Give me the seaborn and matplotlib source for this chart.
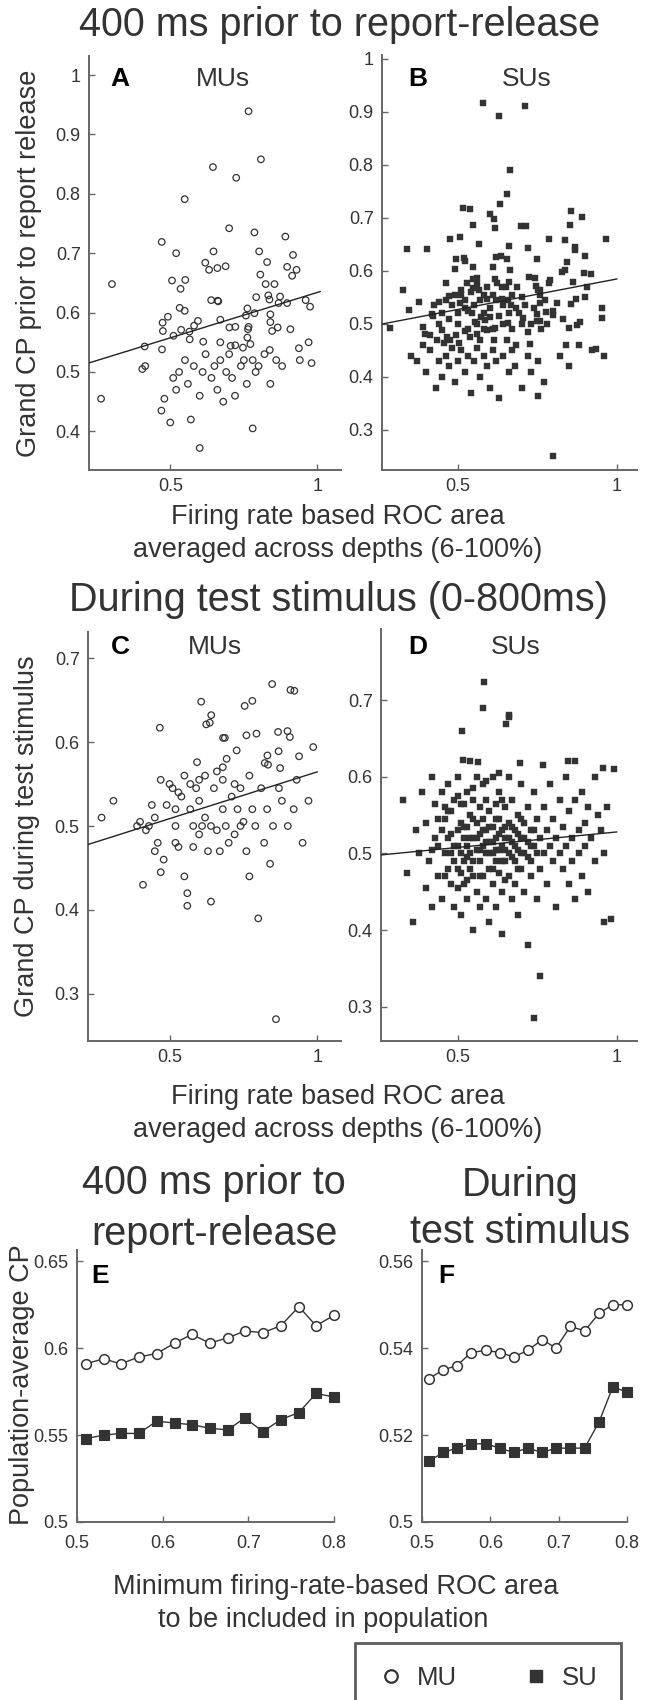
import matplotlib
matplotlib.use("Agg")
import matplotlib.pyplot as plt
import seaborn as sns
from matplotlib.lines import Line2D

# ---------------- data ----------------
# Panel A: MUs, 400 ms prior to report release (x = ROC area, y = grand CP)
a_pts = [
    (0.766, 0.939), (0.808, 0.858), (0.645, 0.845), (0.724, 0.827), (0.549, 0.791),
    (0.700, 0.742), (0.786, 0.735), (0.891, 0.728), (0.471, 0.719), (0.520, 0.700),
    (0.647, 0.703), (0.802, 0.703), (0.917, 0.697), (0.619, 0.684), (0.632, 0.672),
    (0.660, 0.675), (0.688, 0.678), (0.829, 0.685), (0.897, 0.677), (0.929, 0.672),
    (0.914, 0.662), (0.806, 0.664), (0.506, 0.654), (0.551, 0.655), (0.535, 0.640),
    (0.302, 0.648), (0.824, 0.648), (0.854, 0.648), (0.792, 0.626), (0.833, 0.629),
    (0.873, 0.627), (0.837, 0.622), (0.639, 0.621), (0.661, 0.620), (0.663, 0.619),
    (0.868, 0.616), (0.897, 0.616), (0.960, 0.621), (0.975, 0.610), (0.532, 0.608),
    (0.549, 0.603), (0.762, 0.607), (0.757, 0.595), (0.786, 0.599), (0.840, 0.597),
    (0.492, 0.593), (0.474, 0.583), (0.594, 0.586), (0.581, 0.578), (0.670, 0.588),
    (0.701, 0.575), (0.721, 0.576), (0.766, 0.576), (0.764, 0.572), (0.840, 0.584),
    (0.865, 0.575), (0.908, 0.572), (0.475, 0.569), (0.511, 0.561), (0.537, 0.571),
    (0.565, 0.568), (0.566, 0.555), (0.612, 0.551), (0.670, 0.550), (0.762, 0.558),
    (0.772, 0.547), (0.846, 0.569), (0.413, 0.543), (0.705, 0.544), (0.721, 0.545),
    (0.747, 0.541), (0.937, 0.540), (0.472, 0.538), (0.838, 0.537),
    (0.265, 0.455), (0.405, 0.505), (0.415, 0.510), (0.470, 0.435), (0.480, 0.455),
    (0.500, 0.415), (0.520, 0.470), (0.530, 0.500), (0.510, 0.490), (0.550, 0.520),
    (0.560, 0.480), (0.570, 0.420), (0.580, 0.510), (0.600, 0.460), (0.610, 0.500),
    (0.600, 0.372), (0.620, 0.530), (0.640, 0.490), (0.650, 0.510), (0.660, 0.470),
    (0.670, 0.520), (0.680, 0.450), (0.690, 0.500), (0.700, 0.530), (0.710, 0.490),
    (0.720, 0.460), (0.740, 0.510), (0.750, 0.520), (0.760, 0.480), (0.780, 0.405),
    (0.780, 0.520), (0.790, 0.500), (0.800, 0.510), (0.820, 0.530), (0.840, 0.480),
    (0.860, 0.520), (0.880, 0.510), (0.940, 0.520), (0.980, 0.515), (0.970, 0.550),
]
a_x = [p[0] for p in a_pts]
a_y = [p[1] for p in a_pts]

# Panel B: SUs, 400 ms prior to report release
b_pts = [
    (0.578, 0.916), (0.630, 0.892), (0.709, 0.911), (0.664, 0.790), (0.655, 0.745),
    (0.633, 0.726), (0.515, 0.718), (0.538, 0.716), (0.599, 0.708), (0.613, 0.699),
    (0.546, 0.686), (0.617, 0.681), (0.698, 0.684), (0.712, 0.684), (0.854, 0.714),
    (0.889, 0.701), (0.852, 0.687), (0.473, 0.660), (0.506, 0.664), (0.565, 0.651),
    (0.659, 0.648), (0.721, 0.643), (0.786, 0.660), (0.835, 0.658), (0.869, 0.646),
    (0.868, 0.640), (0.900, 0.628), (0.964, 0.660), (0.338, 0.641), (0.403, 0.641),
    (0.492, 0.622), (0.519, 0.625), (0.521, 0.618), (0.620, 0.626), (0.635, 0.629),
    (0.653, 0.622), (0.609, 0.608), (0.548, 0.608), (0.489, 0.604), (0.664, 0.602),
    (0.749, 0.622), (0.842, 0.616), (0.827, 0.598), (0.835, 0.601), (0.895, 0.597),
    (0.918, 0.594), (0.906, 0.569), (0.326, 0.565), (0.344, 0.527), (0.378, 0.541),
    (0.417, 0.518), (0.425, 0.535), (0.440, 0.542), (0.462, 0.577), (0.472, 0.553),
    (0.489, 0.555), (0.510, 0.565), (0.529, 0.577), (0.547, 0.584), (0.560, 0.586),
    (0.547, 0.567), (0.567, 0.564), (0.580, 0.555), (0.591, 0.548), (0.506, 0.539),
    (0.522, 0.530), (0.543, 0.520), (0.553, 0.504), (0.571, 0.514), (0.585, 0.508),
    (0.601, 0.514), (0.617, 0.584), (0.622, 0.577), (0.639, 0.569), (0.637, 0.548),
    (0.656, 0.545), (0.668, 0.555), (0.666, 0.536), (0.684, 0.569), (0.681, 0.530),
    (0.702, 0.550), (0.724, 0.589), (0.741, 0.587), (0.744, 0.572), (0.750, 0.564),
    (0.758, 0.565), (0.756, 0.539), (0.773, 0.545), (0.759, 0.555), (0.785, 0.578),
    (0.789, 0.583), (0.777, 0.522), (0.800, 0.525), (0.747, 0.519), (0.703, 0.511),
    (0.657, 0.501), (0.747, 0.506), (0.756, 0.506), (0.798, 0.517), (0.872, 0.547),
    (0.855, 0.538), (0.953, 0.531), (0.953, 0.511), (0.850, 0.492), (0.873, 0.498),
    (0.885, 0.503), (0.284, 0.493), (0.389, 0.495), (0.396, 0.482), (0.412, 0.479),
    (0.433, 0.470), (0.449, 0.489), (0.465, 0.476), (0.454, 0.464), (0.475, 0.470),
    (0.493, 0.479), (0.502, 0.464), (0.520, 0.486), (0.538, 0.476), (0.559, 0.482),
    (0.570, 0.470), (0.591, 0.489), (0.612, 0.470), (0.617, 0.492), (0.653, 0.470),
    (0.682, 0.460), (0.726, 0.463), (0.934, 0.452),
    (0.350, 0.440), (0.370, 0.430), (0.400, 0.410), (0.410, 0.450), (0.430, 0.380),
    (0.440, 0.430), (0.450, 0.400), (0.460, 0.440), (0.470, 0.420), (0.480, 0.455),
    (0.490, 0.390), (0.500, 0.430), (0.510, 0.450), (0.520, 0.410), (0.530, 0.440),
    (0.540, 0.370), (0.550, 0.430), (0.560, 0.455), (0.570, 0.400), (0.580, 0.440),
    (0.590, 0.420), (0.600, 0.380), (0.610, 0.450), (0.620, 0.430), (0.630, 0.360),
    (0.640, 0.440), (0.660, 0.410), (0.670, 0.450), (0.680, 0.420), (0.700, 0.380),
    (0.720, 0.440), (0.730, 0.410), (0.750, 0.430), (0.770, 0.390), (0.800, 0.250),
    (0.820, 0.440), (0.850, 0.420), (0.880, 0.460), (0.920, 0.450), (0.960, 0.440),
    (0.390, 0.460), (0.750, 0.365),
    (0.450, 0.520), (0.470, 0.510), (0.480, 0.535), (0.500, 0.500), (0.510, 0.555),
    (0.520, 0.545), (0.530, 0.490), (0.540, 0.560), (0.550, 0.535), (0.560, 0.500),
    (0.570, 0.545), (0.580, 0.520), (0.590, 0.570), (0.600, 0.530), (0.610, 0.490),
    (0.620, 0.545), (0.630, 0.515), (0.640, 0.500), (0.650, 0.570), (0.660, 0.520),
    (0.670, 0.490), (0.690, 0.520), (0.710, 0.535), (0.730, 0.500), (0.740, 0.530),
    (0.760, 0.490), (0.780, 0.500), (0.440, 0.500), (0.420, 0.515), (0.460, 0.545),
    (0.500, 0.520), (0.530, 0.525), (0.560, 0.575), (0.580, 0.490), (0.610, 0.555),
    (0.640, 0.535), (0.660, 0.580), (0.700, 0.500), (0.720, 0.485), (0.810, 0.540),
    (0.830, 0.510), (0.860, 0.580), (0.900, 0.550), (0.840, 0.460),
]
b_x = [p[0] for p in b_pts]
b_y = [p[1] for p in b_pts]

# Panel C: MUs, during test stimulus
c_pts = [
    (0.467, 0.617), (0.607, 0.648), (0.641, 0.632), (0.624, 0.621), (0.636, 0.623),
    (0.754, 0.643), (0.780, 0.649), (0.847, 0.669), (0.909, 0.662), (0.922, 0.661),
    (0.681, 0.605), (0.687, 0.605), (0.760, 0.608), (0.794, 0.610), (0.867, 0.612),
    (0.899, 0.613), (0.907, 0.606), (0.986, 0.594), (0.727, 0.590), (0.869, 0.589),
    (0.593, 0.576), (0.693, 0.580), (0.831, 0.584), (0.822, 0.575), (0.833, 0.573),
    (0.938, 0.583), (0.680, 0.570), (0.874, 0.569),
    (0.270, 0.510), (0.310, 0.530), (0.390, 0.500), (0.400, 0.505), (0.410, 0.430),
    (0.420, 0.495), (0.440, 0.525), (0.450, 0.510), (0.460, 0.480), (0.470, 0.555),
    (0.470, 0.445), (0.480, 0.460), (0.490, 0.525), (0.500, 0.550), (0.510, 0.545),
    (0.520, 0.480), (0.520, 0.500), (0.530, 0.475), (0.530, 0.540), (0.540, 0.535),
    (0.550, 0.560), (0.550, 0.440), (0.560, 0.420), (0.560, 0.405), (0.570, 0.520),
    (0.570, 0.550), (0.580, 0.500), (0.580, 0.475), (0.590, 0.545), (0.600, 0.530),
    (0.600, 0.490), (0.610, 0.500), (0.620, 0.510), (0.620, 0.560), (0.630, 0.470),
    (0.640, 0.500), (0.640, 0.410), (0.650, 0.545), (0.660, 0.495), (0.660, 0.565),
    (0.670, 0.470), (0.680, 0.520), (0.690, 0.500), (0.700, 0.480), (0.710, 0.535),
    (0.720, 0.550), (0.720, 0.490), (0.730, 0.520), (0.740, 0.545), (0.750, 0.505),
    (0.760, 0.470), (0.770, 0.560), (0.770, 0.440), (0.780, 0.520), (0.790, 0.500),
    (0.800, 0.390), (0.810, 0.545), (0.820, 0.480), (0.830, 0.520), (0.840, 0.455),
    (0.850, 0.500), (0.860, 0.270), (0.870, 0.545), (0.880, 0.530), (0.900, 0.500),
    (0.920, 0.520), (0.930, 0.555), (0.950, 0.480), (0.970, 0.530), (0.600, 0.555),
    (0.680, 0.555), (0.740, 0.500), (0.520, 0.520), (0.450, 0.470), (0.430, 0.500),
]
c_x = [p[0] for p in c_pts]
c_y = [p[1] for p in c_pts]

# Panel D: SUs, during test stimulus
d_pts = [
    (0.584, 0.723), (0.581, 0.689), (0.660, 0.681), (0.661, 0.678), (0.653, 0.669),
    (0.513, 0.659), (0.516, 0.622), (0.565, 0.619), (0.696, 0.618), (0.768, 0.615),
    (0.848, 0.620), (0.869, 0.620), (0.957, 0.611),
    (0.33, 0.57), (0.34, 0.475), (0.36, 0.41), (0.37, 0.53), (0.38, 0.50), (0.39, 0.58),
    (0.40, 0.455), (0.40, 0.54), (0.41, 0.49), (0.42, 0.60), (0.42, 0.43), (0.43, 0.52),
    (0.43, 0.565), (0.44, 0.47), (0.44, 0.51), (0.45, 0.58), (0.45, 0.44), (0.46, 0.50),
    (0.46, 0.545), (0.47, 0.48), (0.47, 0.52), (0.47, 0.59), (0.48, 0.46), (0.48, 0.50),
    (0.48, 0.555), (0.49, 0.51), (0.49, 0.43), (0.49, 0.57), (0.50, 0.48), (0.50, 0.53),
    (0.50, 0.60), (0.50, 0.455), (0.51, 0.50), (0.51, 0.54), (0.51, 0.42), (0.52, 0.49),
    (0.52, 0.52), (0.52, 0.565), (0.52, 0.46), (0.53, 0.51), (0.53, 0.58), (0.53, 0.44),
    (0.53, 0.535), (0.54, 0.48), (0.54, 0.50), (0.54, 0.55), (0.54, 0.62), (0.55, 0.52),
    (0.55, 0.47), (0.55, 0.40), (0.55, 0.57), (0.56, 0.505), (0.56, 0.54), (0.56, 0.45),
    (0.56, 0.60), (0.57, 0.49), (0.57, 0.525), (0.57, 0.56), (0.57, 0.43), (0.58, 0.51),
    (0.58, 0.47), (0.58, 0.545), (0.58, 0.59), (0.59, 0.50), (0.59, 0.53), (0.59, 0.44),
    (0.59, 0.57), (0.60, 0.48), (0.60, 0.515), (0.60, 0.555), (0.60, 0.41), (0.61, 0.50),
    (0.61, 0.535), (0.61, 0.46), (0.61, 0.60), (0.62, 0.52), (0.62, 0.49), (0.62, 0.565),
    (0.62, 0.43), (0.63, 0.505), (0.63, 0.545), (0.63, 0.475), (0.63, 0.58), (0.64, 0.51),
    (0.64, 0.45), (0.64, 0.53), (0.64, 0.395), (0.65, 0.49), (0.65, 0.56), (0.65, 0.52),
    (0.66, 0.47), (0.66, 0.54), (0.66, 0.50), (0.66, 0.60), (0.67, 0.515), (0.67, 0.44),
    (0.67, 0.57), (0.68, 0.49), (0.68, 0.53), (0.68, 0.46), (0.69, 0.505), (0.69, 0.55),
    (0.69, 0.42), (0.70, 0.52), (0.70, 0.48), (0.70, 0.59), (0.71, 0.50), (0.71, 0.54),
    (0.71, 0.45), (0.72, 0.38), (0.72, 0.515), (0.72, 0.56), (0.73, 0.49), (0.73, 0.53),
    (0.73, 0.47), (0.74, 0.285), (0.74, 0.51), (0.74, 0.58), (0.75, 0.50), (0.75, 0.44),
    (0.75, 0.545), (0.76, 0.34), (0.76, 0.52), (0.76, 0.48), (0.77, 0.56), (0.77, 0.50),
    (0.78, 0.53), (0.78, 0.46), (0.79, 0.51), (0.79, 0.59), (0.80, 0.49), (0.80, 0.545),
    (0.81, 0.52), (0.81, 0.43), (0.82, 0.50), (0.82, 0.57), (0.83, 0.48), (0.83, 0.535),
    (0.84, 0.51), (0.84, 0.60), (0.85, 0.46), (0.85, 0.555), (0.86, 0.52), (0.86, 0.49),
    (0.87, 0.57), (0.87, 0.44), (0.88, 0.53), (0.88, 0.50), (0.89, 0.58), (0.89, 0.47),
    (0.90, 0.54), (0.90, 0.51), (0.91, 0.56), (0.91, 0.45), (0.92, 0.52), (0.93, 0.60),
    (0.93, 0.49), (0.94, 0.55), (0.95, 0.53), (0.96, 0.41), (0.96, 0.50), (0.97, 0.56),
    (0.98, 0.415), (0.99, 0.61),
    (0.45, 0.53), (0.46, 0.47), (0.47, 0.555), (0.48, 0.525), (0.49, 0.49), (0.50, 0.51),
    (0.51, 0.565), (0.51, 0.475), (0.52, 0.535), (0.53, 0.495), (0.54, 0.52), (0.55, 0.49),
    (0.55, 0.545), (0.56, 0.52), (0.57, 0.505), (0.58, 0.53), (0.59, 0.515), (0.60, 0.535),
    (0.60, 0.50), (0.61, 0.515), (0.62, 0.505), (0.62, 0.545), (0.63, 0.525), (0.64, 0.49),
    (0.64, 0.57), (0.65, 0.505), (0.65, 0.535), (0.66, 0.52), (0.67, 0.495), (0.67, 0.535),
    (0.68, 0.51), (0.69, 0.525), (0.70, 0.50), (0.70, 0.545), (0.71, 0.52), (0.72, 0.495),
    (0.73, 0.51), (0.74, 0.53), (0.53, 0.465), (0.57, 0.47), (0.61, 0.48), (0.65, 0.465),
    (0.69, 0.48), (0.46, 0.56), (0.50, 0.575), (0.55, 0.585), (0.59, 0.595), (0.63, 0.605),
    (0.44, 0.545), (0.42, 0.505),
]
d_x = [p[0] for p in d_pts]
d_y = [p[1] for p in d_pts]

# regression lines (intercept, slope)
fit_a = (0.481, 0.153)
fit_b = (0.470, 0.115)
fit_c = (0.453, 0.1115)
fit_d = (0.4875, 0.0405)

# Panels E/F: population-average CP vs minimum ROC area
ef_x = [0.510, 0.531, 0.551, 0.572, 0.593, 0.614, 0.634, 0.655,
        0.676, 0.696, 0.717, 0.738, 0.759, 0.779, 0.800]
e_mu = [0.591, 0.594, 0.591, 0.595, 0.597, 0.603, 0.608, 0.603, 0.606, 0.610, 0.609, 0.613, 0.624, 0.613, 0.619]
e_su = [0.548, 0.550, 0.551, 0.551, 0.558, 0.557, 0.556, 0.554, 0.553, 0.560, 0.552, 0.559, 0.563, 0.574, 0.572]
f_mu = [0.533, 0.535, 0.536, 0.539, 0.5395, 0.539, 0.538, 0.5395, 0.542, 0.540, 0.545, 0.544, 0.548, 0.550, 0.550]
f_su = [0.514, 0.516, 0.517, 0.518, 0.518, 0.517, 0.516, 0.517, 0.516, 0.517, 0.517, 0.517, 0.523, 0.531, 0.530]

scatter_xticks = [0.5, 1]
a_yticks = [0.4, 0.5, 0.6, 0.7, 0.8, 0.9, 1.0]
b_yticks = [0.3, 0.4, 0.5, 0.6, 0.7, 0.8, 0.9, 1.0]
cd_yticks = [0.3, 0.4, 0.5, 0.6, 0.7]
ef_xticks = [0.5, 0.6, 0.7, 0.8]
e_yticks = [0.5, 0.55, 0.6, 0.65]
f_yticks = [0.5, 0.52, 0.54, 0.56]

# ---------------- styling ----------------
sns.set_theme(style="ticks")
plt.rcParams["font.family"] = ["Liberation Sans", "DejaVu Sans"]
TXT = "#333333"
SPN = "#666666"
MK = "#333333"

W, H = 645, 1700
fig = plt.figure(figsize=(W / 100, H / 100), dpi=100)


def px_axes(l, t, r, b):
    return fig.add_axes([l / W, 1 - b / H, (r - l) / W, (b - t) / H])


def ftext(x, y, s, **kw):
    kw.setdefault("color", TXT)
    kw.setdefault("ha", "center")
    kw.setdefault("va", "center")
    fig.text(x / W, 1 - y / H, s, **kw)


def fmt(v):
    return ("%.2f" % v).rstrip("0").rstrip(".")


def style(ax, xlim, ylim, xt, yt, xpad=6):
    ax.set_xlim(*xlim)
    ax.set_ylim(*ylim)
    ax.set_xticks(xt, [fmt(v) for v in xt])
    ax.set_yticks(yt, [fmt(v) for v in yt])
    ax.set_xlabel("")
    ax.set_ylabel("")
    sns.despine(ax=ax)
    for s in ("left", "bottom"):
        ax.spines[s].set_color(SPN)
        ax.spines[s].set_linewidth(1.4)
    ax.tick_params(direction="in", length=4, width=1.0, color=SPN,
                   labelcolor=TXT, labelsize=13, pad=6)
    ax.tick_params(axis="x", pad=xpad)
    ax.patch.set_alpha(0)


def open_scatter(ax, x, y):
    sns.scatterplot(x=x, y=y, ax=ax, marker="o", s=22, facecolor="none",
                    edgecolor=MK, linewidth=0.9, zorder=3)


def filled_scatter(ax, x, y):
    sns.scatterplot(x=x, y=y, ax=ax, marker="s", s=19, color=MK,
                    edgecolor=MK, linewidth=0.3, zorder=3)


def fit_line(ax, fit, x0, x1):
    xs = [x0, x1]
    ys = [fit[0] + fit[1] * v for v in xs]
    sns.lineplot(x=xs, y=ys, ax=ax, color="#222222", lw=1.0, zorder=4)


# Panel A
axA = px_axes(89, 56, 341, 470)
open_scatter(axA, a_x, a_y)
fit_line(axA, fit_a, 0.224, 1.01)
style(axA, (0.224, 1.08), (0.335, 1.032), scatter_xticks, a_yticks)

# Panel B
axB = px_axes(382, 55, 637, 470)
filled_scatter(axB, b_x, b_y)
fit_line(axB, fit_b, 0.26, 1.0)
style(axB, (0.26, 1.063), (0.2245, 1.0075), scatter_xticks, b_yticks)

# Panel C
axC = px_axes(88, 632, 341, 1041)
open_scatter(axC, c_x, c_y)
fit_line(axC, fit_c, 0.224, 1.0)
style(axC, (0.224, 1.08), (0.244, 0.731), scatter_xticks, cd_yticks)

# Panel D
axD = px_axes(381, 629, 637, 1041)
filled_scatter(axD, d_x, d_y)
fit_line(axD, fit_d, 0.26, 1.0)
style(axD, (0.26, 1.063), (0.2554, 0.7926), scatter_xticks, cd_yticks)

# Panels E, F
axE = px_axes(77, 1250, 334, 1522)
axF = px_axes(422, 1250, 627, 1522)
for ax, mu, su in ((axE, e_mu, e_su), (axF, f_mu, f_su)):
    sns.lineplot(x=ef_x, y=su, ax=ax, color=MK, lw=1.0, marker="s", ms=6.5,
                 mfc=MK, mec=MK, mew=0.8, estimator=None, zorder=3,
                 clip_on=False)
    sns.lineplot(x=ef_x, y=mu, ax=ax, color=MK, lw=1.0, marker="o", ms=7,
                 mfc="white", mec=MK, mew=1.1, estimator=None, zorder=3,
                 clip_on=False)
style(axE, (0.5, 0.8), (0.5, 0.6566), ef_xticks, e_yticks, xpad=9)
style(axF, (0.5, 0.8), (0.5, 0.5626), ef_xticks, f_yticks, xpad=9)

# ---------------- text ----------------
TITLE = 28.5
LAB = 19.5
ftext(340, 25, "400 ms prior to report-release", fontsize=TITLE)
ftext(338, 600, "During test stimulus (0-800ms)", fontsize=TITLE)

ftext(338, 517, "Firing rate based ROC area", fontsize=LAB)
ftext(338, 550, "averaged across depths (6-100%)", fontsize=LAB)
ftext(338, 1097, "Firing rate based ROC area", fontsize=LAB)
ftext(338, 1130, "averaged across depths (6-100%)", fontsize=LAB)

ftext(29, 263, "Grand CP prior to report release", fontsize=LAB, rotation=90)
ftext(27, 836, "Grand CP during test stimulus", fontsize=LAB, rotation=90)
ftext(22, 1385, "Population-average CP", fontsize=LAB, rotation=90)

ftext(214, 1183, "400 ms prior to", fontsize=TITLE)
ftext(214, 1234, "report-release", fontsize=TITLE)
ftext(520, 1185, "During", fontsize=TITLE)
ftext(520, 1232, "test stimulus", fontsize=TITLE)

ftext(336, 1587, "Minimum firing-rate-based ROC area", fontsize=LAB)
ftext(323, 1620, "to be included in population", fontsize=LAB)

# panel letters and subtitles
for (lx, ly, letter) in ((120, 79, "A"), (418, 79, "B"), (120, 647, "C"),
                         (418, 647, "D"), (100, 1276, "E"), (446, 1276, "F")):
    ftext(lx, ly, letter, fontsize=19, fontweight="bold", color="black")
for (lx, ly, s) in ((223, 79, "MUs"), (527, 79, "SUs"), (215, 647, "MUs"), (516, 647, "SUs")):
    ftext(lx, ly, s, fontsize=19)

# legend
handles = [
    Line2D([], [], ls="none", marker="o", ms=9, mfc="white", mec=MK, mew=1.6),
    Line2D([], [], ls="none", marker="s", ms=9, mfc=MK, mec=MK),
]
leg = fig.legend(handles, ["MU", "SU"], loc="upper left",
                 bbox_to_anchor=(355 / W, 1 - 1643 / H), ncol=2, frameon=True,
                 fancybox=False, edgecolor="#333333", fontsize=18.5,
                 handlelength=1.0, handletextpad=0.5, columnspacing=2.6,
                 borderpad=0.9, borderaxespad=0)
leg.get_frame().set_linewidth(2.0)
for t in leg.get_texts():
    t.set_color(TXT)

fig.savefig("out.png", dpi=100)
